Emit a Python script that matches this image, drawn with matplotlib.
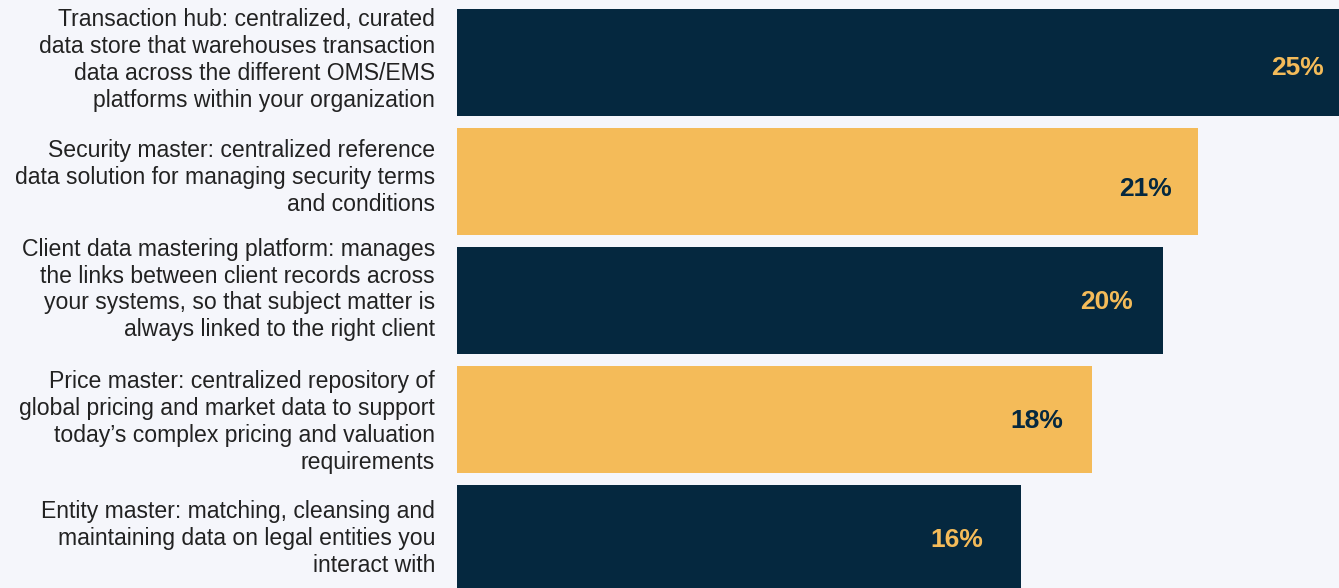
import matplotlib.pyplot as plt
import matplotlib.transforms as mtransforms

plt.rcParams['font.family'] = ['Liberation Sans', 'DejaVu Sans']

labels = [
    "Transaction hub: centralized, curated\ndata store that warehouses transaction\ndata across the different OMS/EMS\nplatforms within your organization",
    "Security master: centralized reference\ndata solution for managing security terms\nand conditions",
    "Client data mastering platform: manages\nthe links between client records across\nyour systems, so that subject matter is\nalways linked to the right client",
    "Price master: centralized repository of\nglobal pricing and market data to support\ntoday\u2019s complex pricing and valuation\nrequirements",
    "Entity master: matching, cleansing and\nmaintaining data on legal entities you\ninteract with",
]
values = [25, 21, 20, 18, 16]

navy = '#05283f'
gold = '#f4bb59'
bg = '#f5f6fb'
bar_colors = [navy, gold, navy, gold, navy]
text_colors = [gold, navy, gold, navy, gold]

# how far the value text sits back from the bar end (data units)
label_pad = [1.19, 1.48, 1.58, 1.57, 1.84]
# vertical shifts in pixels (positive = up)
value_nudge = [-5, -7, -2, -2, -2]
text_nudge = [2.5, 4, 11, -2.5, 0]

fig = plt.figure(figsize=(13.39, 5.88), dpi=100, facecolor=bg)
ax = fig.add_axes([457 / 1339, 0, 1 - 457 / 1339, 1])
ax.set_facecolor(bg)

pos = list(range(len(values)))
ax.barh(pos, values, height=0.897, color=bar_colors)
ax.set_xlim(0, 25)
ax.set_ylim(4.418, -0.5265)

for i, (v, lab) in enumerate(zip(values, labels)):
    vshift = mtransforms.offset_copy(ax.transData, fig=fig, x=0, y=value_nudge[i], units='dots')
    ax.text(v - label_pad[i], i, f"{v}%", transform=vshift, ha='center', va='center',
            fontsize=19, fontweight='bold', color=text_colors[i])
    shift = mtransforms.offset_copy(ax.transData, fig=fig, x=-22, y=text_nudge[i], units='dots')
    ax.text(0, i, lab, transform=shift, ha='right', va='center',
            multialignment='right', fontsize=16.6, linespacing=1.21,
            color='#222222')

ax.axis('off')
fig.savefig('out.png', dpi=100, facecolor=bg)
